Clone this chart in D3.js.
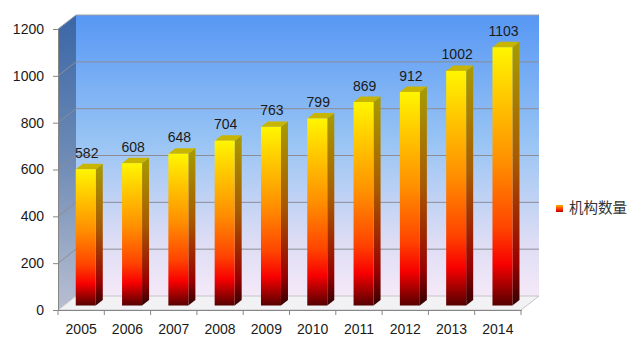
<!DOCTYPE html>
<html lang="zh">
<head>
<meta charset="utf-8" />
<script src="https://cdnjs.cloudflare.com/ajax/libs/d3/7.8.5/d3.min.js"></script>
<style>
  body { margin: 0; background: #fff; }
  svg text { font-family: 'Liberation Sans', 'DejaVu Sans', sans-serif; }
</style>
</head>
<body>
<div id="chart"></div>
<script>
// chart data
var years = ['2005', '2006', '2007', '2008', '2009', '2010', '2011', '2012', '2013', '2014'];
var counts = [582, 608, 648, 704, 763, 799, 869, 912, 1002, 1103];
var yTicks = [0, 200, 400, 600, 800, 1000, 1200];
var seriesName = '机构数量';

var width = 643, height = 354;
// front plane of the 3d box, and depth offset
var plotL = 58, plotR = 521, plotB = 310, plotT = 29;
var depthX = 18, depthY = -14;

var svg = d3.select('#chart').append('svg')
  .attr('width', width).attr('height', height);

var x = d3.scaleBand().domain(years).range([plotL, plotR]);
var y = d3.scaleLinear().domain([0, 1200]).range([plotB, plotT]);

var defs = svg.append('defs');
function grad(id, stops) {
  var g = defs.append('linearGradient').attr('id', id)
    .attr('x1', 0).attr('y1', 0).attr('x2', 0).attr('y2', 1);
  stops.forEach(function (s) {
    g.append('stop').attr('offset', s[0]).attr('stop-color', s[1]);
  });
}
grad('wall', [[0, '#5797f4'], [0.45, '#98c4f4'], [0.8, '#dcdcf4'], [1, '#f5e9f8']]);
grad('side', [[0, '#3a66a6'], [0.5, '#6f8cb6'], [1, '#b9bfd2']]);
grad('barFront', [[0, '#fff600'], [0.15, '#ffd200'], [0.45, '#ff8e00'], [0.7, '#ff4400'], [0.84, '#f80000'], [1, '#560000']]);
grad('barSide', [[0, '#a89c00'], [0.45, '#a85a00'], [0.84, '#980000'], [1, '#320000']]);
grad('legendSw', [[0, '#ffb000'], [0.6, '#ff3000'], [1, '#b00000']]);

function pt(px, py) { return px + ',' + py; }

// back wall
svg.append('rect')
  .attr('x', plotL + depthX).attr('y', plotT + depthY)
  .attr('width', plotR - plotL).attr('height', plotB - plotT)
  .attr('fill', 'url(#wall)');

// left side wall
svg.append('polygon')
  .attr('points', [pt(plotL, plotT), pt(plotL + depthX, plotT + depthY),
    pt(plotL + depthX, plotB + depthY), pt(plotL, plotB)].join(' '))
  .attr('fill', 'url(#side)');

// floor
svg.append('polygon')
  .attr('points', [pt(plotL, plotB), pt(plotR, plotB),
    pt(plotR + depthX, plotB + depthY), pt(plotL + depthX, plotB + depthY)].join(' '))
  .attr('fill', '#f2f2f4').attr('stroke', '#c4c4c8').attr('stroke-width', 1);

// gridlines on back + side wall
var grid = svg.append('g').attr('stroke-width', 1).attr('fill', 'none');
yTicks.filter(function (t) { return t > 0; }).forEach(function (t) {
  var yy = y(t);
  grid.append('polyline')
    .attr('points', [pt(plotL, yy), pt(plotL + depthX, yy + depthY), pt(plotR + depthX, yy + depthY)].join(' '))
    .attr('stroke', t === 1200 ? '#a0a0a8' : '#8c8c96');
});

// bars
var f1 = 0.32, f2 = 0.71, barOff = 12, barW = 20;
var bars = svg.append('g');
years.forEach(function (yr, i) {
  var v = counts[i];
  var x0 = x(yr) + barOff + depthX * f1;
  var yb = y(0) + depthY * f1;
  var yt = y(v) + depthY * f1;
  var dx = depthX * (f2 - f1), dy = depthY * (f2 - f1);
  bars.append('polygon')
    .attr('points', [pt(x0 + barW, yt), pt(x0 + barW + dx, yt + dy),
      pt(x0 + barW + dx, yb + dy), pt(x0 + barW, yb)].join(' '))
    .attr('fill', 'url(#barSide)');
  bars.append('polygon')
    .attr('points', [pt(x0, yt), pt(x0 + barW, yt), pt(x0 + barW + dx, yt + dy), pt(x0 + dx, yt + dy)].join(' '))
    .attr('fill', '#c9b400');
  bars.append('rect')
    .attr('x', x0).attr('y', yt).attr('width', barW).attr('height', yb - yt)
    .attr('fill', 'url(#barFront)');
  svg.append('text')
    .attr('x', x0 + barW / 2 + 1).attr('y', yt + dy - 6)
    .attr('text-anchor', 'middle').attr('font-size', 14).attr('fill', '#1a1a1a')
    .text(v);
});

// axes
var yAxis = svg.append('g').attr('transform', 'translate(' + plotL + ',0)')
  .call(d3.axisLeft(y).tickValues(yTicks).tickFormat(d3.format('d')).tickSize(5).tickPadding(9));
var xAxis = svg.append('g').attr('transform', 'translate(0,' + plotB + ')')
  .call(d3.axisBottom(x).tickSize(0).tickPadding(14));
[yAxis, xAxis].forEach(function (a) {
  a.select('.domain').attr('stroke', '#868686');
  a.selectAll('.tick line').attr('stroke', '#868686');
  a.selectAll('text').attr('font-size', 14).attr('fill', '#1a1a1a')
    .attr('font-family', "'Liberation Sans', sans-serif");
});
// category boundary ticks
xAxis.selectAll('.cat-tick')
  .data(years.concat(['end']))
  .enter().append('line')
  .attr('x1', function (d, i) { return plotL + i * x.step(); })
  .attr('x2', function (d, i) { return plotL + i * x.step(); })
  .attr('y1', 0).attr('y2', 5)
  .attr('stroke', '#868686');

// legend
svg.append('rect')
  .attr('x', 556).attr('y', 205).attr('width', 7).attr('height', 7)
  .attr('fill', 'url(#legendSw)');
svg.append('text')
  .attr('x', 569).attr('y', 213)
  .attr('font-size', 14.5).attr('fill', '#333')
  .style('font-family', "'Noto Sans CJK SC', sans-serif")
  .text(seriesName);
</script>
</body>
</html>
